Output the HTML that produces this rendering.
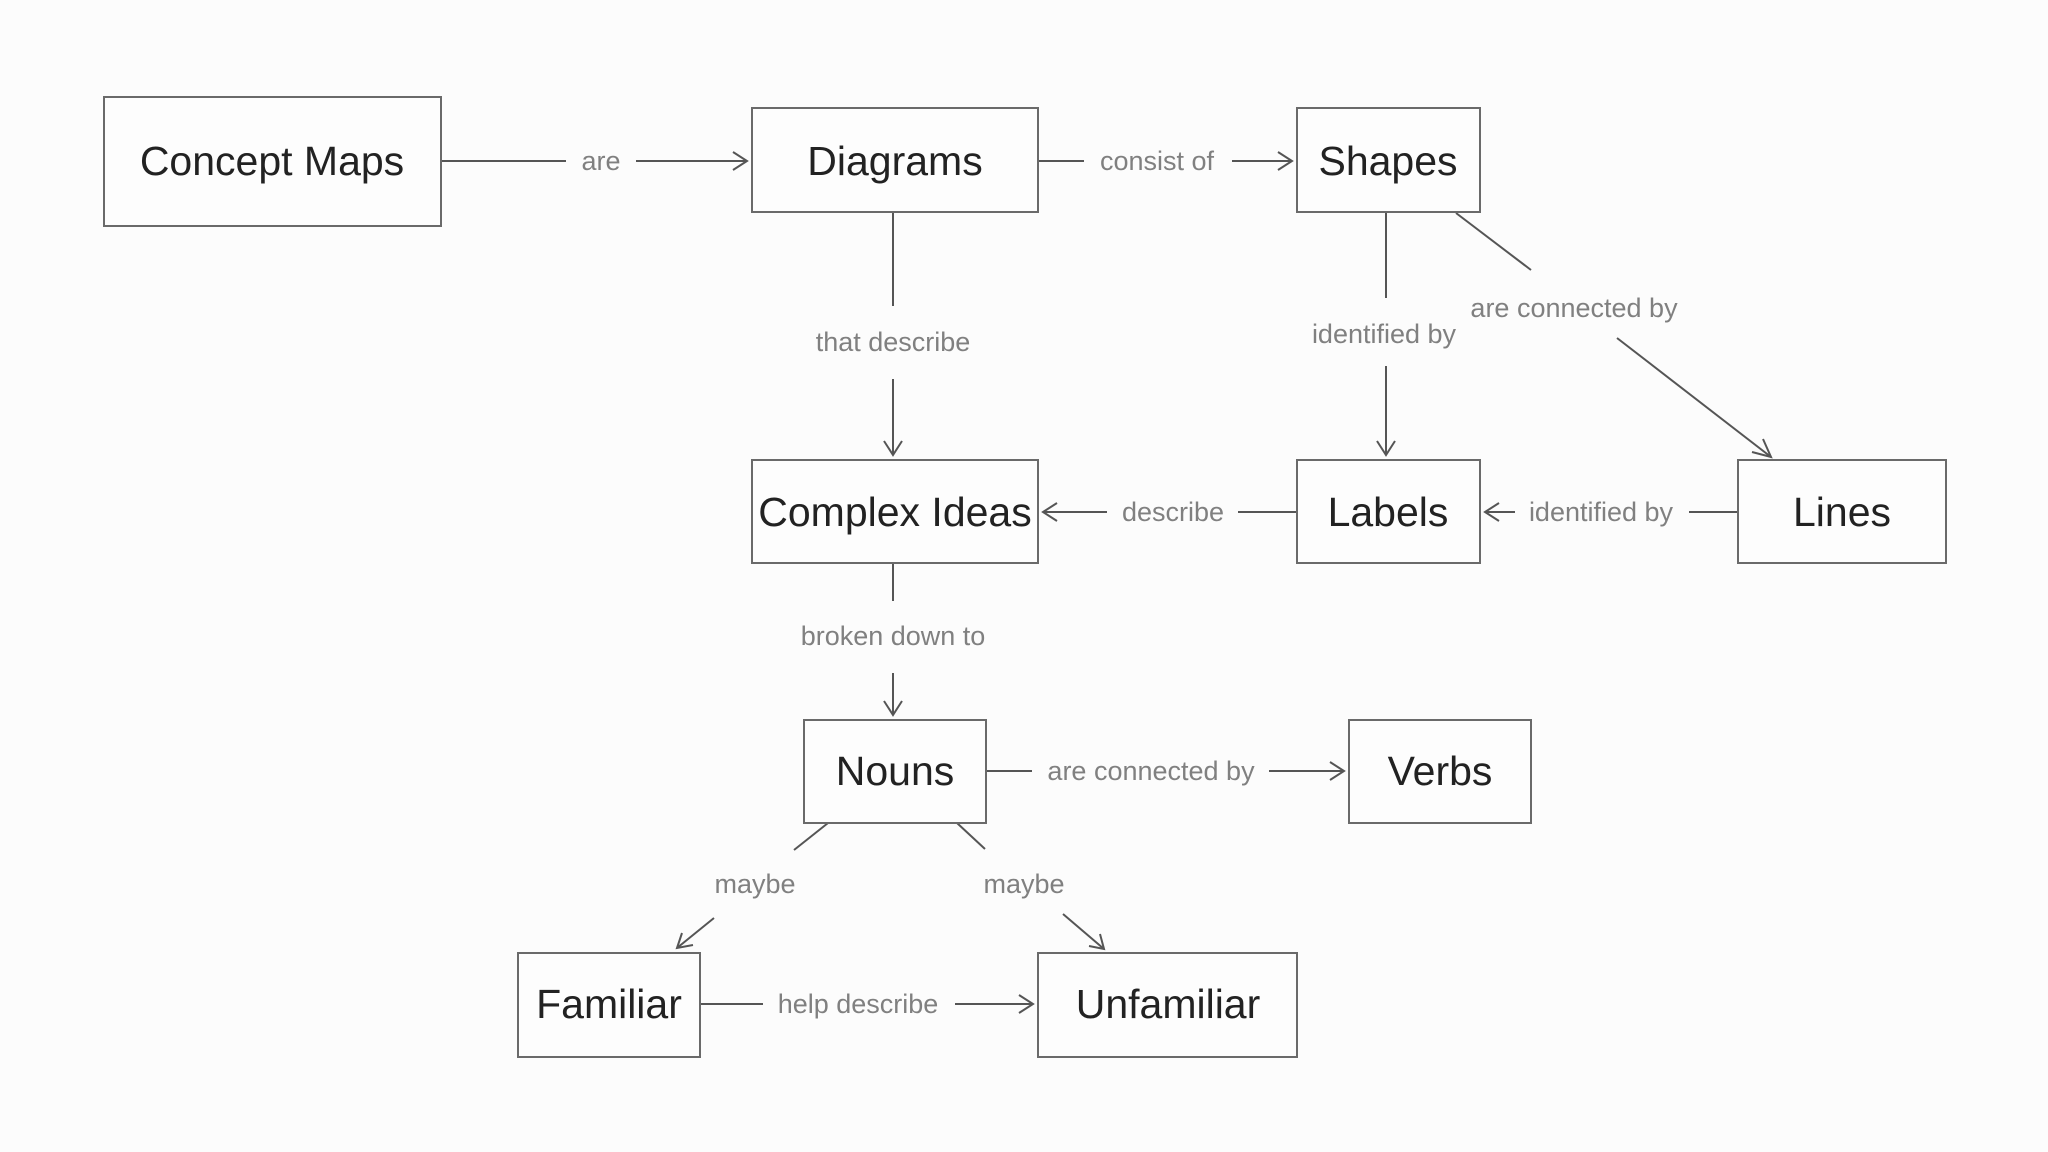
<!DOCTYPE html>
<html><head><meta charset="utf-8"><style>
html,body{margin:0;padding:0;background:#fcfcfc;}
svg{display:block}
.b{fill:#fdfdfd;stroke:#6a6a6a;stroke-width:2}
.t{font-family:"Liberation Sans",sans-serif;font-size:41px;fill:#222;text-anchor:middle;dominant-baseline:central}
.l{font-family:"Liberation Sans",sans-serif;font-size:27px;fill:#808080;text-anchor:middle;dominant-baseline:central}
.e{stroke:#555;stroke-width:2;fill:none}
</style></head><body>
<svg width="2048" height="1152" viewBox="0 0 2048 1152" xmlns="http://www.w3.org/2000/svg">
<g class="e">
<line x1="441" y1="161" x2="566" y2="161"/><line x1="636" y1="161" x2="747" y2="161"/><polyline points="733,152 747,161 733,170"/>
<line x1="1038" y1="161" x2="1084" y2="161"/><line x1="1232" y1="161" x2="1292" y2="161"/><polyline points="1278,152 1292,161 1278,170"/>
<line x1="893" y1="212" x2="893" y2="306"/><line x1="893" y1="379" x2="893" y2="455"/><polyline points="884,441 893,455 902,441"/>
<line x1="1386" y1="212" x2="1386" y2="298"/><line x1="1386" y1="366" x2="1386" y2="455"/><polyline points="1377,441 1386,455 1395,441"/>
<line x1="1456" y1="213" x2="1531" y2="270"/><line x1="1617" y1="338" x2="1771" y2="457"/><polyline points="1752,452 1771,457 1763,439"/>
<line x1="1738" y1="512" x2="1689" y2="512"/><line x1="1515" y1="512" x2="1485" y2="512"/><polyline points="1499,503 1485,512 1499,521"/>
<line x1="1297" y1="512" x2="1238" y2="512"/><line x1="1107" y1="512" x2="1043" y2="512"/><polyline points="1057,503 1043,512 1057,521"/>
<line x1="893" y1="563" x2="893" y2="601"/><line x1="893" y1="673" x2="893" y2="715"/><polyline points="884,701 893,715 902,701"/>
<line x1="986" y1="771" x2="1032" y2="771"/><line x1="1269" y1="771" x2="1344" y2="771"/><polyline points="1330,762 1344,771 1330,780"/>
<line x1="828" y1="823" x2="794" y2="850"/><line x1="714" y1="918" x2="677" y2="948"/><polyline points="682,933 677,948 693,945"/>
<line x1="957" y1="823" x2="985" y2="849"/><line x1="1063" y1="914" x2="1104" y2="949"/><polyline points="1100,934 1104,949 1089,946"/>
<line x1="700" y1="1004" x2="763" y2="1004"/><line x1="955" y1="1004" x2="1033" y2="1004"/><polyline points="1019,995 1033,1004 1019,1013"/>
</g>
<text class="l" x="601" y="161">are</text>
<text class="l" x="1157" y="161">consist of</text>
<text class="l" x="893" y="342">that describe</text>
<text class="l" x="1384" y="334">identified by</text>
<text class="l" x="1574" y="308">are connected by</text>
<text class="l" x="1601" y="512">identified by</text>
<text class="l" x="1173" y="512">describe</text>
<text class="l" x="893" y="636">broken down to</text>
<text class="l" x="1151" y="771">are connected by</text>
<text class="l" x="755" y="884">maybe</text>
<text class="l" x="1024" y="884">maybe</text>
<text class="l" x="858" y="1004">help describe</text>
<rect class="b" x="104" y="97" width="337" height="129"/><text class="t" x="272" y="161">Concept Maps</text>
<rect class="b" x="752" y="108" width="286" height="104"/><text class="t" x="895" y="161">Diagrams</text>
<rect class="b" x="1297" y="108" width="183" height="104"/><text class="t" x="1388" y="161">Shapes</text>
<rect class="b" x="752" y="460" width="286" height="103"/><text class="t" x="895" y="512">Complex Ideas</text>
<rect class="b" x="1297" y="460" width="183" height="103"/><text class="t" x="1388" y="512">Labels</text>
<rect class="b" x="1738" y="460" width="208" height="103"/><text class="t" x="1842" y="512">Lines</text>
<rect class="b" x="804" y="720" width="182" height="103"/><text class="t" x="895" y="771">Nouns</text>
<rect class="b" x="1349" y="720" width="182" height="103"/><text class="t" x="1440" y="771">Verbs</text>
<rect class="b" x="518" y="953" width="182" height="104"/><text class="t" x="609" y="1004">Familiar</text>
<rect class="b" x="1038" y="953" width="259" height="104"/><text class="t" x="1168" y="1004">Unfamiliar</text>
</svg>
</body></html>
